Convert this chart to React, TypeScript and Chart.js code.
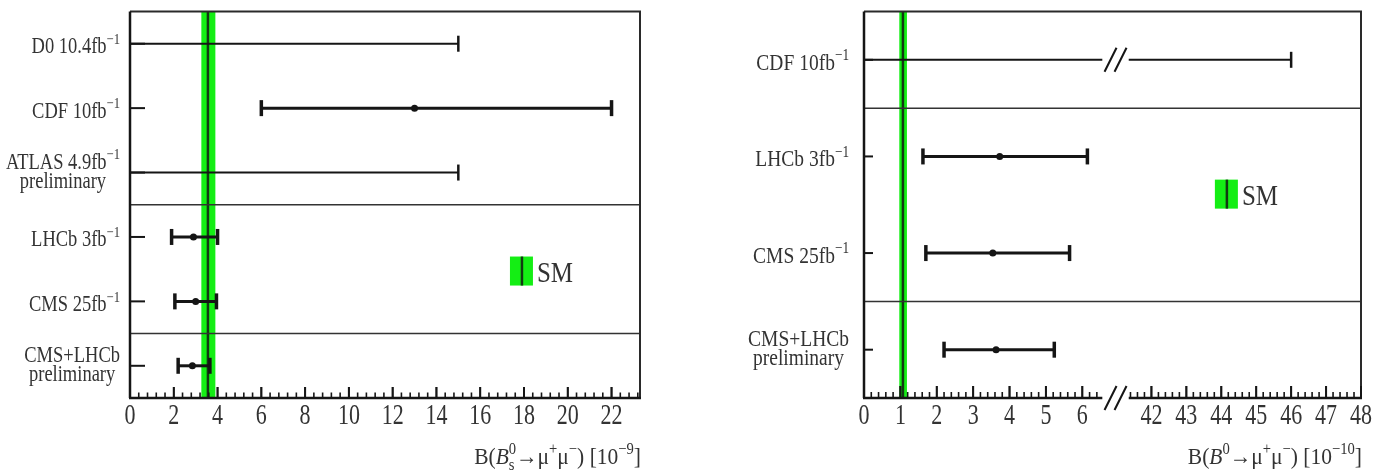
import React, { useEffect, useRef } from 'react';
import { Chart, registerables } from 'chart.js';
Chart.register(...registerables);

// ---------------- data ----------------
// Left panel: B(Bs -> mu mu) [1e-9]
const leftLabels: string[][] = [
  ['D0 10.4fb^{−1}'],
  ['CDF 10fb^{−1}'],
  ['ATLAS 4.9fb^{−1}', 'preliminary'],
  ['LHCb 3fb^{−1}'],
  ['CMS 25fb^{−1}'],
  ['CMS+LHCb', 'preliminary'],
];
const leftRows = [0.5, 1.5, 2.5, 3.5, 4.5, 5.5];
const leftLow = [0, 6, 0, 1.9, 2.05, 2.2];
const leftHigh = [15, 22, 15, 4.0, 3.95, 3.65];
const leftCentral: (number | null)[] = [null, 13, null, 2.9, 3.0, 2.85];
const leftSeparators = [3, 5];
const leftTickLabels = [0, 2, 4, 6, 8, 10, 12, 14, 16, 18, 20, 22];
const smBs = [3.26, 3.56, 3.9]; // low, central, high

// Right panel: B(B0 -> mu mu) [1e-10]
const rightLabels: string[][] = [
  ['CDF 10fb^{−1}'],
  ['LHCb 3fb^{−1}'],
  ['CMS 25fb^{−1}'],
  ['CMS+LHCb', 'preliminary'],
];
const rightRows = [1, 3, 5, 7];
const rightLow = [0, 1.62, 1.7, 2.2];
const rightHigh = [46, 6.14, 5.65, 5.23];
const rightCentral: (number | null)[] = [null, 3.73, 3.54, 3.63];
const rightSeparators = [2, 6];
const rightTickLabels = [0, 1, 2, 3, 4, 5, 6, 42, 43, 44, 45, 46, 47, 48];
const smB0 = [0.97, 1.07, 1.18];
const rightBreak = [6.55, 41.35];

// ---------------- helpers ----------------
const FAMILY = '"Liberation Serif", "DejaVu Serif", serif';
const TEXT = '#333';
const INK = '#151515';
const GREEN = '#14ee14';

type Seg = { t: string; sup?: boolean; sub?: boolean; it?: boolean };

function parseRich(s: string): Seg[] {
  const segs: Seg[] = [];
  const re = /\^\{([^}]*)\}|_\{([^}]*)\}|\*([^*]*)\*/g;
  let last = 0;
  let m: RegExpExecArray | null;
  while ((m = re.exec(s))) {
    if (m.index > last) segs.push({ t: s.slice(last, m.index) });
    if (m[1] !== undefined) segs.push({ t: m[1], sup: true });
    else if (m[2] !== undefined) segs.push({ t: m[2], sub: true });
    else segs.push({ t: m[3], it: true });
    last = re.lastIndex;
  }
  if (last < s.length) segs.push({ t: s.slice(last) });
  return segs;
}

function fontFor(seg: Seg, size: number) {
  const sz = seg.sup || seg.sub ? size * 0.68 : size;
  return `${seg.it ? 'italic ' : ''}${sz}px ${FAMILY}`;
}

function layoutRich(ctx: CanvasRenderingContext2D, segs: Seg[], size: number) {
  let x = 0;
  const items: { seg: Seg; x: number; w: number }[] = [];
  segs.forEach((seg, i) => {
    ctx.font = fontFor(seg, size);
    const w = ctx.measureText(seg.t).width;
    if (seg.sub && i > 0 && segs[i - 1].sup) {
      const prev = items[i - 1];
      items.push({ seg, x: prev.x, w });
      x = Math.max(prev.x + prev.w, prev.x + w);
    } else {
      items.push({ seg, x, w });
      x += w;
    }
  });
  return { items, width: x };
}

function measureRich(ctx: CanvasRenderingContext2D, text: string, size: number) {
  return layoutRich(ctx, parseRich(text), size).width;
}

function drawRich(
  ctx: CanvasRenderingContext2D,
  text: string,
  x: number,
  baseline: number,
  size: number,
  align: 'left' | 'right' | 'center',
  vscale: number,
  color = TEXT
) {
  const { items, width } = layoutRich(ctx, parseRich(text), size);
  const x0 = align === 'right' ? x - width : align === 'center' ? x - width / 2 : x;
  ctx.save();
  ctx.translate(x0, baseline);
  ctx.scale(1, vscale);
  ctx.fillStyle = color;
  ctx.textBaseline = 'alphabetic';
  ctx.textAlign = 'left';
  items.forEach((it) => {
    ctx.font = fontFor(it.seg, size);
    const dy = it.seg.sup ? -size * 0.42 : it.seg.sub ? size * 0.24 : 0;
    ctx.fillText(it.seg.t, it.x, dy);
  });
  ctx.restore();
}

function range(a: number, b: number, step: number) {
  const out: number[] = [];
  const n = Math.round((b - a) / step);
  for (let i = 0; i <= n; i++) out.push(+(a + i * step).toFixed(4));
  return out;
}

type Panel = {
  width: number;
  padding: { left: number; right: number; top: number; bottom: number };
  xmax: number;
  ymax: number;
  xf: (v: number) => number;
  rows: number[];
  labels: string[][];
  low: number[];
  high: number[];
  central: (number | null)[];
  separators: number[];
  band: number[];
  tickLabels: number[];
  minorTicks: number[];
  majorLen: number;
  minorLen: number;
  yTickLen: number;
  labelRight: number;
  labelSize: number;
  singleBase: number;
  legend: { fx: number; fy: number };
  title: string;
  brk?: number[];
};

const brkMap = (v: number) => (v <= 7 ? v : 7.9 + (v - 42) * 0.96);

const leftPanel: Panel = {
  width: 700,
  padding: { left: 130, right: 60, top: 7, bottom: 73 },
  xmax: 23.3,
  ymax: 6,
  xf: (v) => v,
  rows: leftRows,
  labels: leftLabels,
  low: leftLow,
  high: leftHigh,
  central: leftCentral,
  separators: leftSeparators,
  band: smBs,
  tickLabels: leftTickLabels,
  minorTicks: range(0, 23.2, 0.4),
  majorLen: 11,
  minorLen: 5.5,
  yTickLen: 15,
  labelRight: 10,
  labelSize: 18.5,
  singleBase: 9.5,
  legend: { fx: 0.745, fy: 0.634 },
  title: 'B(*B*^{0}_{s}→μ^{+}μ^{−}) [10^{−9}]',
};

const rightPanel: Panel = {
  width: 673,
  padding: { left: 164, right: 12, top: 7, bottom: 73 },
  xmax: brkMap(48),
  ymax: 8,
  xf: brkMap,
  rows: rightRows,
  labels: rightLabels,
  low: rightLow,
  high: rightHigh,
  central: rightCentral,
  separators: rightSeparators,
  band: smB0,
  tickLabels: rightTickLabels,
  minorTicks: [...range(0, 6.4, 0.2), ...range(41.4, 48, 0.2)],
  majorLen: 12,
  minorLen: 6,
  yTickLen: 9,
  labelRight: 15,
  labelSize: 19.5,
  singleBase: 10,
  legend: { fx: 0.706, fy: 0.435 },
  title: 'B(*B*^{0}→μ^{+}μ^{−}) [10^{−10}]',
  brk: rightBreak,
};

function drawSlashes(ctx: CanvasRenderingContext2D, cx: number, cy: number) {
  ctx.save();
  ctx.strokeStyle = INK;
  ctx.lineWidth = 2;
  [-5, 5].forEach((o) => {
    ctx.beginPath();
    ctx.moveTo(cx + o - 6, cy + 12);
    ctx.lineTo(cx + o + 6, cy - 12);
    ctx.stroke();
  });
  ctx.restore();
}

function makePlugin(p: Panel) {
  return {
    id: 'forest',
    beforeDatasetsDraw(chart: any) {
      const ctx: CanvasRenderingContext2D = chart.ctx;
      const a = chart.chartArea;
      const xs = chart.scales.x;
      const ys = chart.scales.y;
      const x1 = xs.getPixelForValue(p.xf(p.band[0]));
      const x2 = xs.getPixelForValue(p.xf(p.band[2]));
      const xc = xs.getPixelForValue(p.xf(p.band[1]));
      ctx.save();
      ctx.fillStyle = GREEN;
      ctx.fillRect(x1, a.top, x2 - x1, a.bottom - a.top);
      ctx.strokeStyle = '#123812';
      ctx.lineWidth = 2.5;
      ctx.beginPath();
      ctx.moveTo(xc, a.top);
      ctx.lineTo(xc, a.bottom);
      ctx.stroke();
      ctx.strokeStyle = '#333';
      ctx.lineWidth = 1.5;
      p.separators.forEach((s) => {
        const y = ys.getPixelForValue(s);
        ctx.beginPath();
        ctx.moveTo(a.left, y);
        ctx.lineTo(a.right, y);
        ctx.stroke();
      });
      ctx.restore();
    },
    afterDatasetsDraw(chart: any) {
      const ctx: CanvasRenderingContext2D = chart.ctx;
      const a = chart.chartArea;
      const xs = chart.scales.x;
      const ys = chart.scales.y;
      const px = (v: number) => xs.getPixelForValue(p.xf(v));
      ctx.save();
      ctx.strokeStyle = '#2a2a2a';
      ctx.lineWidth = 2;
      ctx.beginPath();
      ctx.moveTo(a.left, a.top);
      ctx.lineTo(a.right, a.top);
      ctx.lineTo(a.right, a.bottom);
      ctx.stroke();
      ctx.strokeStyle = INK;
      ctx.lineWidth = 2.5;
      ctx.beginPath();
      ctx.moveTo(a.left, a.top);
      ctx.lineTo(a.left, a.bottom);
      ctx.stroke();
      ctx.beginPath();
      if (p.brk) {
        ctx.moveTo(a.left - 1, a.bottom);
        ctx.lineTo(px(p.brk[0]), a.bottom);
        ctx.moveTo(px(p.brk[1]), a.bottom);
        ctx.lineTo(a.right + 1, a.bottom);
      } else {
        ctx.moveTo(a.left - 1, a.bottom);
        ctx.lineTo(a.right + 1, a.bottom);
      }
      ctx.stroke();
      ctx.lineWidth = 1.6;
      p.minorTicks.forEach((v) => {
        const isMajor = p.tickLabels.some((t) => Math.abs(t - v) < 1e-6);
        const x = px(v);
        ctx.beginPath();
        ctx.moveTo(x, a.bottom);
        ctx.lineTo(x, a.bottom - (isMajor ? p.majorLen : p.minorLen));
        ctx.stroke();
      });
      p.tickLabels.forEach((v) => {
        const x = px(v);
        ctx.lineWidth = 2;
        ctx.beginPath();
        ctx.moveTo(x, a.bottom);
        ctx.lineTo(x, a.bottom - p.majorLen);
        ctx.stroke();
        drawRich(ctx, String(v), x, a.bottom + 26, 22, 'center', 1.35);
      });
      ctx.lineWidth = 2;
      p.rows.forEach((r) => {
        const y = ys.getPixelForValue(r);
        ctx.beginPath();
        ctx.moveTo(a.left, y);
        ctx.lineTo(a.left + p.yTickLen, y);
        ctx.stroke();
      });
      p.labels.forEach((lines, i) => {
        const y = ys.getPixelForValue(p.rows[i]);
        const right = a.left - p.labelRight;
        if (lines.length === 1) {
          drawRich(ctx, lines[0], right, y + p.singleBase, p.labelSize, 'right', 1.2);
        } else {
          const widths = lines.map((l) => measureRich(ctx, l, p.labelSize));
          const cx = right - Math.max(...widths) / 2;
          drawRich(ctx, lines[0], cx, y - 4, p.labelSize, 'center', 1.2);
          drawRich(ctx, lines[1], cx, y + 15, p.labelSize, 'center', 1.2);
        }
      });
      const lx = a.left + p.legend.fx * (a.right - a.left);
      const ly = a.top + p.legend.fy * (a.bottom - a.top);
      ctx.fillStyle = GREEN;
      ctx.fillRect(lx, ly, 23, 29);
      ctx.strokeStyle = '#123812';
      ctx.lineWidth = 2.5;
      ctx.beginPath();
      ctx.moveTo(lx + 12, ly);
      ctx.lineTo(lx + 12, ly + 29);
      ctx.stroke();
      drawRich(ctx, 'SM', lx + 27, ly + 25, 25, 'left', 1.2);
      drawRich(ctx, p.title, a.right + 1, a.bottom + 66, 21.5, 'right', 1.12);
      if (p.brk) {
        const cx = (px(p.brk[0]) + px(p.brk[1])) / 2;
        drawSlashes(ctx, cx, a.bottom);
        p.low.forEach((lo, i) => {
          if (lo < p.brk![0] && p.high[i] > p.brk![1]) {
            drawSlashes(ctx, cx, ys.getPixelForValue(p.rows[i]));
          }
        });
      }
      ctx.restore();
    },
  };
}

function buildConfig(p: Panel): any {
  const datasets: any[] = [];
  p.low.forEach((lo, i) => {
    const y = p.rows[i];
    const hi = p.high[i];
    const isLimit = p.central[i] === null;
    const segs =
      p.brk && lo < p.brk[0] && hi > p.brk[1]
        ? [
            [lo, p.brk[0]],
            [p.brk[1], hi],
          ]
        : [[lo, hi]];
    const w = isLimit ? 2 : 3;
    segs.forEach((s, k) => {
      datasets.push({
        type: 'scatter',
        showLine: true,
        data: [
          { x: p.xf(s[0]), y },
          { x: p.xf(s[1]), y },
        ],
        borderColor: INK,
        borderWidth: w,
        pointStyle: 'line',
        pointRotation: 90,
        pointRadius: [k === 0 && !isLimit ? 8 : 0, k === segs.length - 1 ? 8 : 0],
        pointBorderWidth: w + 0.5,
        pointBorderColor: INK,
        pointBackgroundColor: INK,
        pointHoverRadius: 0,
        clip: false,
      });
    });
  });
  datasets.push({
    type: 'scatter',
    data: p.central
      .map((c, i) => (c === null ? null : { x: p.xf(c), y: p.rows[i] }))
      .filter((d) => d !== null),
    pointStyle: 'circle',
    pointRadius: 3.5,
    backgroundColor: INK,
    borderColor: INK,
    borderWidth: 0,
    clip: false,
  });
  return {
    type: 'scatter',
    data: { datasets },
    options: {
      animation: false,
      responsive: false,
      devicePixelRatio: 1,
      events: [],
      layout: { padding: p.padding },
      plugins: { legend: { display: false }, tooltip: { enabled: false } },
      scales: {
        x: { type: 'linear', min: 0, max: p.xmax, display: false },
        y: { type: 'linear', min: 0, max: p.ymax, reverse: true, display: false },
      },
    },
    plugins: [makePlugin(p)],
  };
}

export default function App() {
  const leftRef = useRef<HTMLCanvasElement>(null);
  const rightRef = useRef<HTMLCanvasElement>(null);
  useEffect(() => {
    const c1 = new Chart(leftRef.current!, buildConfig(leftPanel));
    const c2 = new Chart(rightRef.current!, buildConfig(rightPanel));
    return () => {
      c1.destroy();
      c2.destroy();
    };
  }, []);
  return (
    <div style={{ position: 'fixed', left: 0, top: 0, width: 1373, height: 471, background: '#fff' }}>
      <canvas ref={leftRef} width={700} height={471} style={{ position: 'absolute', left: 0, top: 0 }} />
      <canvas ref={rightRef} width={673} height={471} style={{ position: 'absolute', left: 700, top: 0 }} />
    </div>
  );
}
